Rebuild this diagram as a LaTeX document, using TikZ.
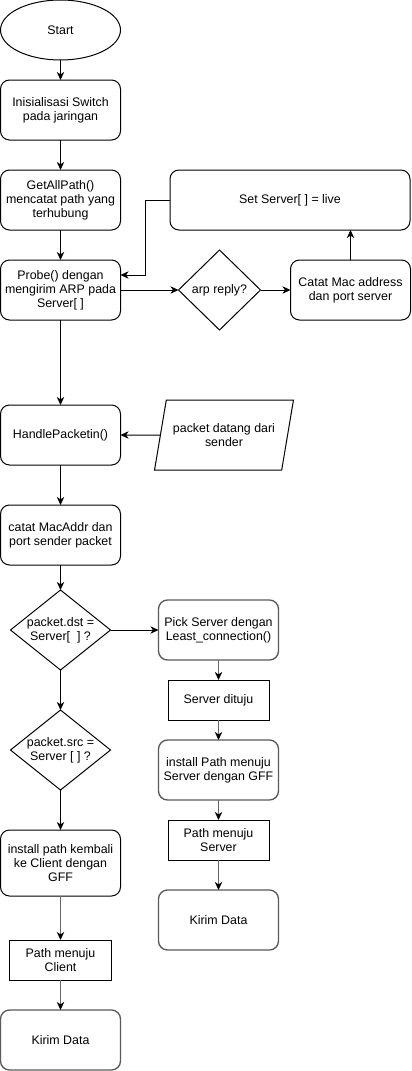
\documentclass[tikz,border=0pt]{standalone}
\usepackage{fontspec}
\setmainfont{Liberation Sans}
\usetikzlibrary{positioning,arrows.meta,shapes.geometric}

\begin{document}
\begin{tikzpicture}[
  x=0.75pt, y=-0.75pt,
  >={Stealth[length=6pt,width=5.5pt,inset=1.8pt]},
  font=\fontsize{9.3}{10.5}\selectfont,
  every node/.style={outer sep=0pt},
  proc/.style={draw, rounded corners=6.75pt, minimum width=90pt, minimum height=45pt, align=center, inner sep=2pt, line width=0.75pt},
  gproc/.style={proc, draw=black!65, line width=1pt},
  term/.style={draw, ellipse, minimum width=90pt, minimum height=45pt, line width=0.75pt},
  decision/.style={draw, diamond, inner sep=0pt, minimum width=75pt, minimum height=60pt, line width=0.75pt},
  plain/.style={draw, rectangle, minimum width=75.75pt, minimum height=30pt, align=center, inner sep=2pt, line width=0.75pt},
  io/.style={draw, trapezium, trapezium left angle=67.5, trapezium right angle=112.5, trapezium stretches=true, minimum width=105pt, minimum height=52.5pt, align=center, inner sep=1pt, line width=0.75pt},
  arr/.style={->, line width=0.75pt},
  garr/.style={-{Stealth[length=6pt,width=5.5pt,inset=1.8pt,black]}, draw=black!60, line width=1pt},
]
\useasboundingbox (0,0) rectangle (411,1071);

% Main column
\node[term] (start) at (60.5,30) {Start};
\node[proc, below=15pt of start] (init) {Inisialisasi Switch\\pada jaringan};
\node[proc, below=22.5pt of init] (getall) {GetAllPath()\\mencatat path yang\\terhubung};
\node[proc, below=22.5pt of getall] (probe) {Probe() dengan\\mengirim ARP pada\\Server[ ]};

% Probe loop
\node[decision, right=43.5pt of probe, minimum width=61.5pt, label={center:arp reply?}] (arp) {};
\node[proc, right=22.5pt of arp] (catatmac) {Catat Mac address\\dan port server};
\node[proc, minimum width=180pt] (setsrv) at (290,200) {Set Server[ ] = live};

% Packet in
\node[proc, below=63.75pt of probe] (handle) {HandlePacketin()};
\node[io] (pkt) at (224,435) {packet datang dari\\sender};
\node[proc, below=30pt of handle] (catat) {catat MacAddr dan\\port sender packet};

% Decisions
\node[decision, below=18.75pt of catat, label={[align=center]center:{packet.dst =\\Server[~~] ?}}] (dst) {};
\node[decision, below=30pt of dst, label={[align=center]center:{packet.src =\\Server [ ] ?}}] (src) {};

% Back to client
\node[proc, below=30pt of src, minimum height=49.5pt] (kembali) {install path kembali\\ke Client dengan\\GFF};
\node[plain, minimum width=76.5pt, below=33pt of kembali] (pathc) {Path menuju\\Client};
\node[gproc, below=22.5pt of pathc] (kirimc) {Kirim Data};

% To server
\node[gproc, right=36pt of dst] (pick) {Pick Server dengan\\Least\_connection()};
\node[plain, below=15pt of pick] (dituju) {Server dituju};
\node[gproc, below=15pt of dituju] (installs) {install Path menuju\\Server dengan GFF};
\node[plain, below=15pt of installs] (paths) {Path menuju\\Server};
\node[gproc, below=22.5pt of paths] (kirims) {Kirim Data};

% Arrows main column
\draw[arr] (start) -- (init);
\draw[arr] (init) -- (getall);
\draw[arr] (getall) -- (probe);
\draw[arr] (probe) -- (handle);
\draw[arr] (handle) -- (catat);
\draw[arr] (catat) -- (dst);
\draw[arr] (dst) -- (src);
\draw[arr] (src) -- (kembali);
\draw[garr] (kembali) -- (pathc);
\draw[garr] (pathc) -- (kirimc);

% Arrows probe loop
\draw[arr] (probe) -- (arp);
\draw[arr] (arp) -- (catatmac);
\draw[arr] (catatmac) -- (catatmac |- setsrv.south);
\draw[arr] (setsrv.west) -- ++(-25,0) |- ([yshift=11.25pt]probe.east);

% Arrows packet in
\draw[arr] (pkt) -- (handle);

% Arrows server side
\draw[arr] (dst) -- (pick);
\draw[garr] (pick) -- (dituju);
\draw[garr] (dituju) -- (installs);
\draw[garr] (installs) -- (paths);
\draw[garr] (paths) -- (kirims);

\end{tikzpicture}
\end{document}
